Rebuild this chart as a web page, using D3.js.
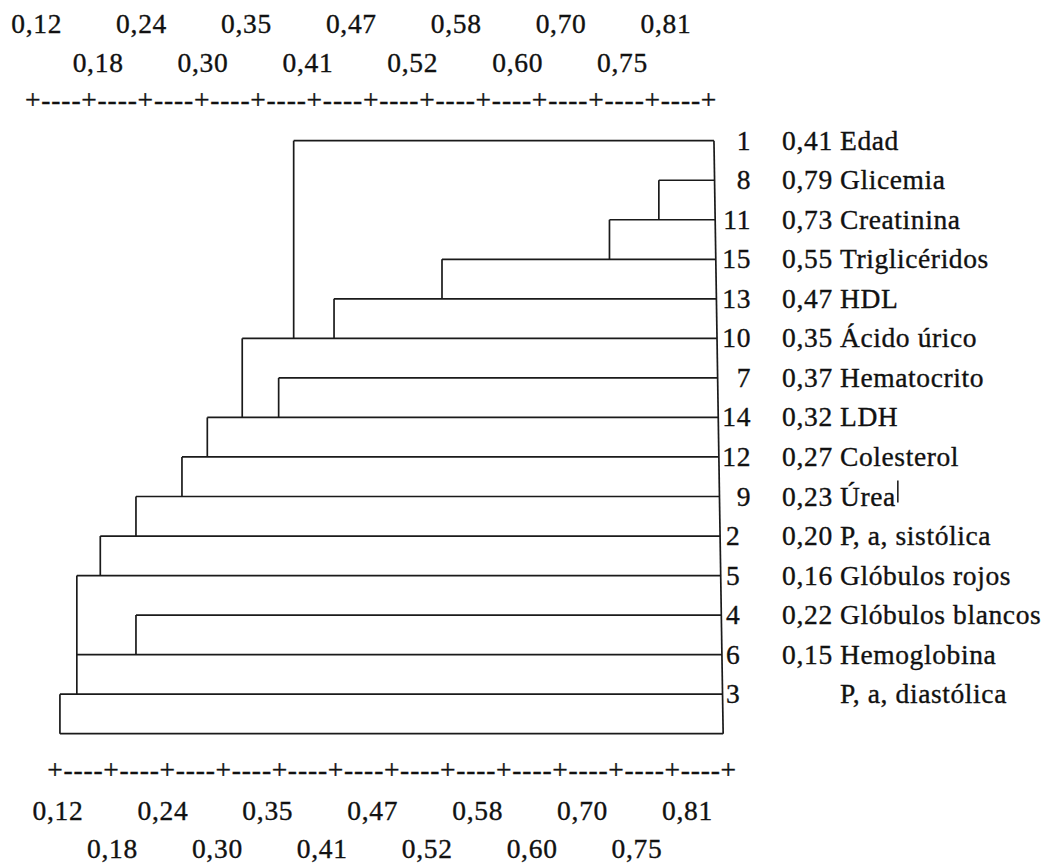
<!DOCTYPE html>
<html>
<head>
<meta charset="utf-8">
<script src="https://cdn.jsdelivr.net/npm/d3@7"></script>
<style>
  html, body { margin: 0; padding: 0; background: #fff; }
  svg { display: block; }
</style>
</head>
<body>
<svg id="chart" width="1050" height="863" font-family="'Liberation Serif', Tinos, 'Times New Roman', 'DejaVu Serif', serif"></svg>
<script>
// ---------- data ----------
const tickValues = [0.12, 0.18, 0.24, 0.30, 0.35, 0.41, 0.47, 0.52, 0.58, 0.60, 0.70, 0.75, 0.81];
const tickLabels = ["0,12", "0,18", "0,24", "0,30", "0,35", "0,41", "0,47", "0,52", "0,58", "0,60", "0,70", "0,75", "0,81"];

const leafIds    = ["1", "8", "11", "15", "13", "10", "7", "14", "12", "9", "2", "5", "4", "6", "3"];
const leafScores = [0.41, 0.79, 0.73, 0.55, 0.47, 0.35, 0.37, 0.32, 0.27, 0.23, 0.20, 0.16, 0.22, 0.15, null];
const leafNames  = ["Edad", "Glicemia", "Creatinina", "Triglicéridos", "HDL", "Ácido úrico", "Hematocrito",
                    "LDH", "Colesterol", "Úrea", "P, a, sistólica", "Glóbulos rojos", "Glóbulos blancos",
                    "Hemoglobina", "P, a, diastólica"];
// level (on the axis) where each row's horizontal branch starts
const branchLevels = [0.388, 0.757, 0.712, 0.536, 0.431, 0.336, 0.372, 0.305, 0.279, 0.230, 0.192, 0.167, 0.230, 0.167, 0.149];
// closing line under the last row
const closingLevel = 0.149;
// vertical joins: level, from row, to row
const joinLevels = [0.388, 0.757, 0.712, 0.536, 0.431, 0.336, 0.372, 0.305, 0.279, 0.230, 0.192, 0.167, 0.230, 0.149];
const joinFrom   = ["1", "8", "11", "15", "13", "10", "7", "14", "12", "9", "2", "5", "4", "3"];
const joinTo     = ["10", "11", "15", "13", "10", "14", "14", "12", "9", "2", "5", "3", "6", "end"];
// leaf edge (right side) at top and bottom
const leafEdgeTop = 0.8157, leafEdgeBottom = 0.8255;

// ---------- layout ----------
const svg = d3.select("#chart");
const FS = 27.5;
const INK = "#111";
const fmt = d3.formatLocale({decimal: ",", thousands: ".", grouping: [3], currency: ["", ""]}).format(".2f");

const plusTop = d3.scalePoint().domain(tickLabels).range([32.7, 708.6]);
const plusBot = d3.scalePoint().domain(tickLabels).range([55, 728.3]);
const labTop  = d3.scalePoint().domain(tickLabels).range([36.7, 666]);
const labBot  = d3.scalePoint().domain(tickLabels).range([58, 687.5]);

// value -> x (piecewise along the typed axis)
const x = d3.scaleLinear().domain(tickValues).range(tickLabels.map(t => plusTop(t)));
const rows = leafIds.concat(["end"]);
const y = d3.scalePoint().domain(rows).range([140.7, 733.7]);
const edgeX = d3.scaleLinear().domain([y("1"), y("end")]).range([x(leafEdgeTop), x(leafEdgeBottom)]);

function ink(sel) {
  return sel.attr("fill", INK).attr("stroke", INK).attr("stroke-width", 0.35);
}

// ---------- axes (typed "+----+" style) ----------
function drawAxis(plusScale, labScale, plusBase, row1Base, row2Base, dx2) {
  const g = ink(svg.append("g")).attr("font-size", FS);
  g.selectAll("text.plus").data(tickLabels).join("text")
    .attr("class", "plus")
    .attr("x", d => plusScale(d)).attr("y", plusBase)
    .attr("text-anchor", "middle")
    .text("+");
  g.selectAll("text.dash").data(tickLabels.slice(1)).join("text")
    .attr("class", "dash")
    .attr("x", (d, i) => (plusScale(d) + plusScale(tickLabels[i])) / 2 + 0.5)
    .attr("y", plusBase)
    .attr("text-anchor", "middle")
    .attr("letter-spacing", 0.9)
    .text("----");
  g.selectAll("text.tl").data(tickLabels).join("text")
    .attr("class", "tl")
    .attr("x", (d, i) => labScale(d) + (i % 2 ? dx2 : 0))
    .attr("y", (d, i) => i % 2 ? row2Base : row1Base)
    .attr("text-anchor", "middle")
    .attr("letter-spacing", 0.7)
    .text(d => d);
}
drawAxis(plusTop, labTop, 108.7, 33.3, 71.8, 9);
drawAxis(plusBot, labBot, 778.6, 820, 858, 2);

// ---------- dendrogram ----------
const lines = svg.append("g").attr("stroke", "#1a1a1a").attr("stroke-width", 1.7).attr("fill", "none");

// horizontal branches
lines.selectAll("line.h").data(leafIds).join("line")
  .attr("class", "h")
  .attr("x1", (d, i) => x(branchLevels[i]))
  .attr("x2", d => edgeX(y(d)))
  .attr("y1", d => y(d)).attr("y2", d => y(d));
// closing line
lines.append("line")
  .attr("x1", x(closingLevel)).attr("x2", edgeX(y("end")))
  .attr("y1", y("end")).attr("y2", y("end"));
// vertical joins
lines.selectAll("line.v").data(joinLevels).join("line")
  .attr("class", "v")
  .attr("x1", d => x(d)).attr("x2", d => x(d))
  .attr("y1", (d, i) => y(joinFrom[i])).attr("y2", (d, i) => y(joinTo[i]));
// leaf edge
lines.append("line")
  .attr("x1", edgeX(y("1"))).attr("x2", edgeX(y("end")))
  .attr("y1", y("1")).attr("y2", y("end"));

// ---------- leaf labels ----------
const lab = ink(svg.append("g")).attr("font-size", FS);
lab.selectAll("text.id").data(leafIds).join("text")
  .attr("class", "id")
  .attr("x", (d, i) => i < 10 ? 751 : 726)
  .attr("text-anchor", (d, i) => i < 10 ? "end" : "start")
  .attr("y", d => y(d) + 9)
  .attr("letter-spacing", 0.6)
  .text(d => d);
lab.selectAll("text.sc").data(leafScores).join("text")
  .attr("class", "sc")
  .attr("x", 782)
  .attr("y", (d, i) => y(leafIds[i]) + 9)
  .attr("letter-spacing", 0.7)
  .text(d => d == null ? "" : fmt(d));
const names = lab.selectAll("text.nm").data(leafNames).join("text")
  .attr("class", "nm")
  .attr("x", 840)
  .attr("y", (d, i) => y(leafIds[i]) + 9)
  .attr("letter-spacing", 0.6)
  .text(d => d);

// text cursor artefact after "Úrea"
names.filter(d => d === "Úrea").each(function() {
  const len = this.getComputedTextLength();
  const yy = +this.getAttribute("y");
  svg.append("line")
    .attr("x1", 840 + len + 2).attr("x2", 840 + len + 2)
    .attr("y1", yy - 25).attr("y2", yy - 3)
    .attr("stroke", INK).attr("stroke-width", 1.5);
});
</script>
</body>
</html>
